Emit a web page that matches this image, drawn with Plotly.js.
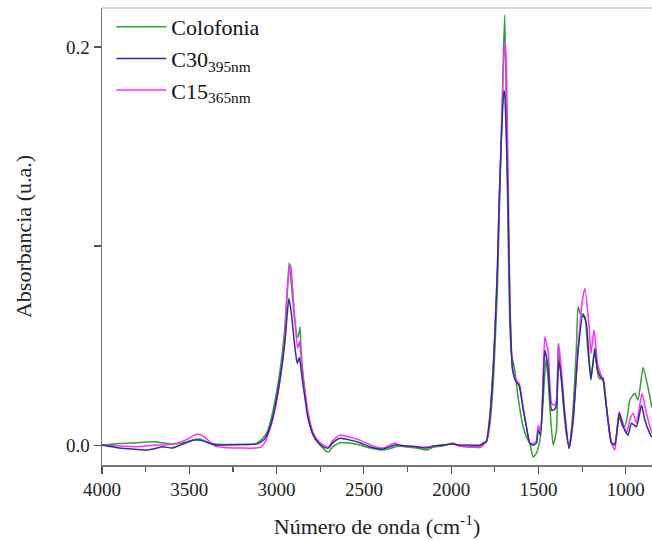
<!DOCTYPE html>
<html>
<head>
<meta charset="utf-8">
<script src="https://cdn.plot.ly/plotly-3.0.1.min.js"></script>
<style>html,body{margin:0;padding:0;background:#fff;}#chart{width:652px;height:540px;}</style>
</head>
<body>
<div id="chart"></div>
<script>
// Colofonia
const colofoniaX = [4000,3900,3800,3750,3700,3650,3600,3550,3500,3470,3450,3420,3380,3350,3300,3200,3120,3090,3070,3050,3019,2981,2952,2940,2928,2915,2900,2880,2870,2866,2860,2848,2819,2790,2760,2730,2704,2680,2637,2580,2523,2460,2391,2323,2300,2250,2200,2140,2100,2050,1990,1950,1900,1836,1817,1798,1779,1760,1750,1735,1725,1715,1706,1700,1693,1685,1675,1664,1655,1636,1617,1588,1569,1550,1531,1512,1492,1475,1458,1445,1435,1416,1397,1388,1374,1359,1340,1325,1305,1283,1273,1254,1235,1220,1200,1178,1157,1145,1130,1111,1082,1063,1038,1020,1006,990,977,949,930,901,873,851];
const colofoniaY = [0.000,0.0008,0.0012,0.0015,0.0017,0.0010,0.0006,0.0008,0.0020,0.0028,0.0030,0.0025,0.0010,0.0005,0.0003,0.0003,0.0005,0.0025,0.0045,0.0075,0.018,0.037,0.060,0.077,0.0916,0.080,0.066,0.054,0.057,0.0595,0.048,0.035,0.015,0.005,0.001,-0.002,-0.0035,-0.001,0.0012,0.001,0.000,-0.0015,-0.0025,-0.001,-0.0005,-0.001,-0.0015,-0.0025,-0.001,-0.0005,0.001,-0.0005,-0.0008,-0.0005,0.0005,0.0015,0.010,0.030,0.048,0.080,0.115,0.148,0.178,0.200,0.216,0.17,0.11,0.06,0.046,0.0377,0.024,0.0092,0.004,0.001,-0.006,-0.004,0.0025,0.020,0.0427,0.033,0.019,0.000,0.0075,0.051,0.039,0.021,0.005,-0.001,0.015,0.049,0.0695,0.0645,0.0645,0.050,0.0343,0.046,0.0343,0.033,0.034,0.0193,0.001,0.001,0.014,0.010,0.0092,0.015,0.0226,0.026,0.0226,0.039,0.029,0.019];

// C15 365nm
const c15X = [4000,3900,3800,3750,3700,3650,3600,3550,3500,3470,3450,3420,3380,3350,3300,3200,3120,3090,3070,3050,3019,2981,2952,2940,2928,2920,2915,2900,2880,2870,2866,2860,2848,2819,2790,2760,2730,2704,2680,2637,2580,2523,2460,2391,2323,2300,2250,2200,2140,2100,2050,1990,1950,1900,1836,1817,1798,1779,1760,1750,1735,1725,1715,1706,1700,1690,1683,1674,1664,1649,1630,1611,1588,1569,1550,1531,1512,1502,1489,1475,1464,1445,1425,1407,1397,1384,1368,1349,1325,1302,1273,1250,1235,1210,1200,1182,1162,1145,1130,1111,1082,1063,1038,1016,997,977,958,939,907,882,851];
const c15Y = [0.000,-0.0005,-0.0008,-0.0005,0.000,0.000,0.0005,0.0015,0.0035,0.0050,0.0054,0.0045,0.0015,-0.0005,-0.0012,-0.0015,-0.0015,-0.0010,0.001,0.005,0.014,0.032,0.056,0.075,0.088,0.0905,0.087,0.068,0.0486,0.052,0.050,0.044,0.034,0.016,0.006,0.002,0.000,-0.001,0.002,0.005,0.004,0.0025,0.000,-0.0015,0.001,0.000,-0.0005,-0.001,-0.001,-0.0005,0.000,0.0005,-0.0005,-0.001,-0.0012,0.000,0.002,0.014,0.038,0.056,0.090,0.123,0.150,0.175,0.192,0.203,0.185,0.135,0.073,0.039,0.033,0.031,0.019,0.0092,0.001,0.001,0.002,0.010,0.0067,0.030,0.0544,0.047,0.021,0.020,0.0226,0.0511,0.0368,0.016,-0.0017,0.0126,0.049,0.072,0.0787,0.0595,0.046,0.0578,0.041,0.036,0.0327,0.0193,0.001,-0.0025,0.0168,0.011,0.0059,0.0126,0.016,0.011,0.026,0.016,0.0059];

// C30 395nm
const c30X = [4000,3900,3800,3750,3700,3650,3600,3550,3500,3470,3450,3420,3380,3350,3300,3200,3120,3090,3070,3050,3019,2981,2952,2940,2930,2915,2900,2882,2870,2860,2848,2819,2790,2760,2730,2704,2680,2637,2580,2523,2460,2391,2323,2300,2250,2200,2140,2100,2050,1990,1950,1900,1836,1817,1798,1779,1760,1750,1735,1725,1715,1706,1698,1693,1683,1674,1664,1649,1630,1611,1588,1569,1550,1531,1512,1502,1489,1475,1464,1445,1425,1407,1397,1384,1368,1349,1325,1302,1273,1245,1226,1200,1178,1162,1145,1130,1111,1082,1063,1038,1016,987,968,939,910,891,863,851];
const c30Y = [0.000,-0.0015,-0.0022,-0.0025,-0.0018,-0.0008,-0.0015,0.000,0.0018,0.0025,0.0025,0.0020,0.0008,0.000,0.000,0.0003,0.0005,0.0015,0.003,0.006,0.015,0.033,0.052,0.065,0.0737,0.066,0.053,0.041,0.044,0.038,0.030,0.013,0.005,0.001,-0.001,-0.0015,0.001,0.0034,0.0025,0.0012,-0.001,-0.002,0.000,0.000,-0.0005,-0.0008,-0.0015,-0.0005,0.000,0.0005,0.000,0.000,0.000,0.001,0.002,0.014,0.038,0.056,0.090,0.123,0.148,0.168,0.178,0.176,0.150,0.120,0.070,0.038,0.032,0.030,0.018,0.009,0.001,0.000,0.001,0.0075,0.005,0.025,0.0477,0.039,0.0176,0.018,0.020,0.0427,0.0327,0.0142,-0.0017,0.012,0.0477,0.066,0.061,0.0327,0.0486,0.0377,0.0343,0.0327,0.019,0.001,0.000,0.016,0.0092,0.005,0.011,0.0092,0.020,0.0126,0.0059,0.004];

const seriesNames = ['Colofonia', 'C30<sub>395nm</sub>', 'C15<sub>365nm</sub>'];
const xTickVals = [4000,3500,3000,2500,2000,1500,1000];
const yTickVals = [0, 0.1, 0.2];
const yTickText = ['0.0', '', '0.2'];

const serif = 'Liberation Serif';

const traces = [
  {x: colofoniaX, y: colofoniaY, name: seriesNames[0], type: 'scatter', mode: 'lines',
   line: {color: '#33a033', width: 1.5, shape: 'spline', smoothing: 0.5}, legendrank: 1},
  {x: c15X, y: c15Y, name: seriesNames[2], type: 'scatter', mode: 'lines',
   line: {color: '#ff2bff', width: 1.5, shape: 'spline', smoothing: 0.5}, legendrank: 3},
  {x: c30X, y: c30Y, name: seriesNames[1], type: 'scatter', mode: 'lines',
   line: {color: '#2e2e9c', width: 1.5, shape: 'spline', smoothing: 0.5}, legendrank: 2}
];

const layout = {
  width: 652, height: 540,
  margin: {l: 102, r: 0, t: 8, b: 75},
  paper_bgcolor: '#fff', plot_bgcolor: '#fff',
  font: {family: serif, color: '#222', size: 19},
  showlegend: true,
  legend: {x: 0.017, y: 1.0044, xanchor: 'left', yanchor: 'top', bgcolor: 'rgba(0,0,0,0)',
           itemwidth: 50, font: {family: serif, size: 22, color: '#111'}, tracegroupgap: 0},
  xaxis: {
    range: [4000, 850], tickvals: xTickVals, ticks: 'outside', ticklen: 7, tickwidth: 1.2,
    tickcolor: '#555', showline: true, linecolor: '#777', linewidth: 1.5, showgrid: false,
    zeroline: false, tickfont: {family: serif, size: 19, color: '#222'},
    minor: {dtick: 250, tick0: 0, ticks: 'outside', ticklen: 5, tickcolor: '#555', showgrid: false},
    title: {text: 'Número de onda (cm<sup>-1</sup>)', font: {family: serif, size: 22, color: '#222'}, standoff: 19}
  },
  yaxis: {
    range: [-0.0100, 0.2196], tickvals: yTickVals, ticktext: yTickText, ticks: 'outside', ticklen: 7,
    tickwidth: 1.2, tickcolor: '#555', showline: true, linecolor: '#777', linewidth: 1.5,
    showgrid: false, zeroline: false, tickfont: {family: serif, size: 19, color: '#222'},
    title: {text: 'Absorbancia (u.a.)', font: {family: serif, size: 22, color: '#222'}, standoff: 28}
  },
  shapes: [
    {type: 'line', xref: 'paper', yref: 'paper', x0: 0, x1: 1, y0: 1, y1: 1,
     line: {color: '#d8d8d8', width: 2}}
  ]
};

Plotly.newPlot('chart', traces, layout, {displayModeBar: false, staticPlot: true});
</script>
</body>
</html>
